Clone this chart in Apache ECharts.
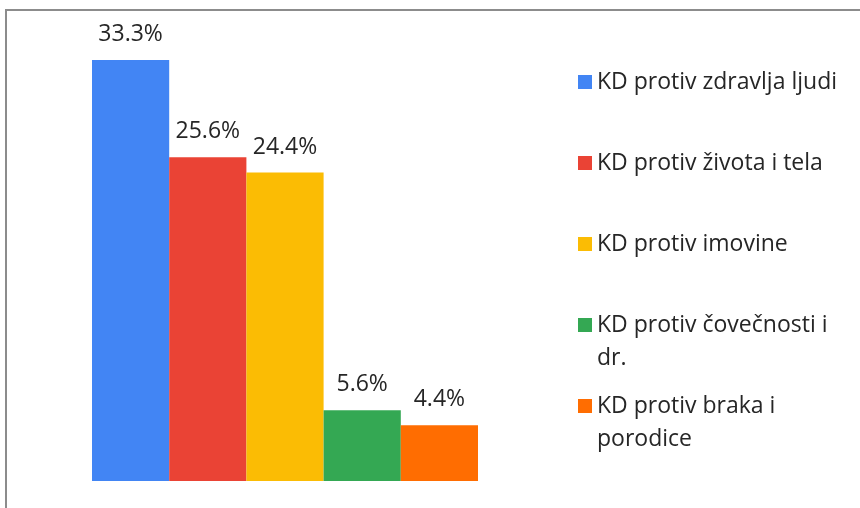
<!DOCTYPE html>
<html>
<head>
<meta charset="utf-8">
<script src="https://cdn.jsdelivr.net/npm/echarts@6/dist/echarts.min.js"></script>
<style>
  html, body { margin: 0; padding: 0; background: #fff; }
  #chart { width: 860px; height: 508px; }
</style>
</head>
<body>
<div id="chart"></div>
<script>
var categories = ["KD"];
var seriesNames = [
  "KD protiv zdravlja ljudi",
  "KD protiv života i tela",
  "KD protiv imovine",
  "KD protiv čovečnosti i dr.",
  "KD protiv braka i porodice"
];
// legend text as it wraps in the picture
var legendLabels = [
  "KD protiv zdravlja ljudi",
  "KD protiv života i tela",
  "KD protiv imovine",
  "KD protiv čovečnosti i\ndr.",
  "KD protiv braka i\nporodice"
];
var values = [33.3, 25.6, 24.4, 5.6, 4.4];
var colors = ["#4285F4", "#EA4335", "#FBBC04", "#34A853", "#FF6D01"];

var fontFam = "'Open Sans', sans-serif";
var textColor = "#262626";

var mychart = echarts.init(document.getElementById("chart"));

var series = seriesNames.map(function (name, i) {
  return {
    name: name,
    type: "bar",
    data: [values[i]],
    barGap: "0%",
    barCategoryGap: "0%",
    itemStyle: { color: colors[i] },
    label: {
      show: true,
      position: "top",
      distance: 14,
      formatter: function (p) { return p.value.toFixed(1) + "%"; },
      color: textColor,
      fontSize: 23,
      fontFamily: fontFam
    }
  };
});

// one legend block per series so the spacing stays even when a name wraps;
// a wrapped name gets an empty first line so the marker sits beside its first line
var lineH = 33;
var legendCenters = [82, 163, 244, 325, 406];
var legends = seriesNames.map(function (name, i) {
  var isWrapped = legendLabels[i].indexOf("\n") >= 0;
  var top = isWrapped ? legendCenters[i] - 5 - lineH * 1.5 : legendCenters[i] - 5 - lineH / 2;
  return {
    data: [name],
    orient: "vertical",
    left: 573,
    top: top,
    itemWidth: 14,
    itemHeight: 14,
    icon: "rect",
    itemGap: 7,
    selectedMode: false,
    formatter: function () { return isWrapped ? "\n" + legendLabels[i] : legendLabels[i]; },
    textStyle: {
      color: textColor,
      fontSize: 23,
      fontFamily: fontFam,
      lineHeight: lineH
    }
  };
});

var option = {
  animation: false,
  grid: { left: 92, right: 382, top: 60, bottom: 27 },
  xAxis: {
    type: "category",
    data: categories,
    show: false
  },
  yAxis: {
    type: "value",
    min: 0,
    max: "dataMax",
    show: false
  },
  legend: legends,
  series: series,
  graphic: [
    {
      type: "polyline",
      shape: { points: [[6, 508], [6, 10], [860, 10]] },
      style: { stroke: "#8c8c8c", lineWidth: 2, fill: null }
    }
  ]
};
mychart.setOption(option, true);
</script>
</body>
</html>
